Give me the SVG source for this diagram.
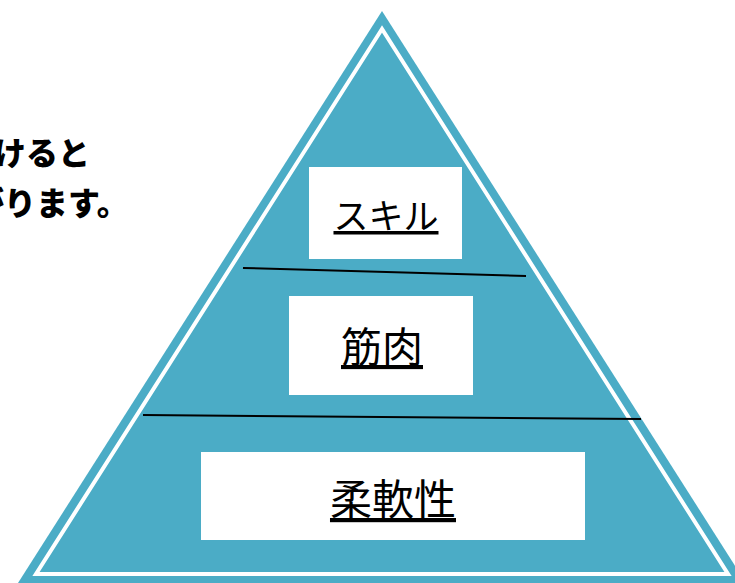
<svg xmlns="http://www.w3.org/2000/svg" width="735" height="583" viewBox="0 0 735 583">
<style>
.lbl{font-family:"Noto Sans CJK JP","Liberation Serif",serif;fill:#000;text-anchor:middle;text-decoration:underline}
.side{font-family:"Noto Sans CJK JP",sans-serif;font-weight:900;font-size:32px;fill:#000}
.box{fill:#fff}
.sep{stroke:#000;stroke-width:2;fill:none}
</style>
<rect width="735" height="583" fill="#fff"/>
<g id="side-text">
<text class="side" x="-6" y="165">けると</text>
<text class="side" x="-28" y="215">がります。</text>
</g>
<g id="pyramid">
<polygon points="382,11 18,583 746,583" fill="#4BACC6"/>
<polygon points="382,29 36,574 728,574" fill="#4BACC6" stroke="#fff" stroke-width="4"/>
</g>
<g id="connectors">
<line class="sep" x1="243" y1="268" x2="526" y2="276"/>
<line class="sep" x1="143" y1="415" x2="641" y2="419"/>
</g>
<g id="skill">
<rect class="box" x="309" y="167" width="153" height="92"/>
<text class="lbl" x="386" y="229" font-size="35">スキル</text>
</g>
<g id="muscle">
<rect class="box" x="289" y="296" width="184" height="99"/>
<text class="lbl" x="382" y="362" font-size="41">筋肉</text>
</g>
<g id="flex">
<rect class="box" x="201" y="452" width="384" height="88"/>
<text class="lbl" x="393" y="515" font-size="42">柔軟性</text>
</g>
</svg>
